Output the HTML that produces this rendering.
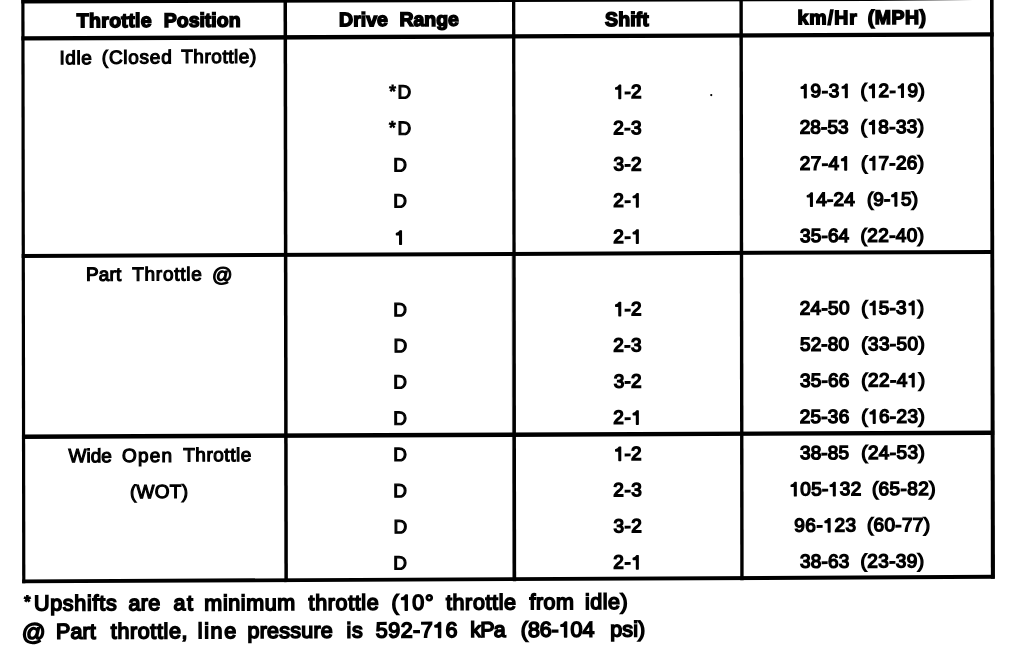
<!DOCTYPE html>
<html><head><meta charset="utf-8"><title>Shift Speed Chart</title>
<style>
html,body{margin:0;padding:0;background:#fff;}
body{width:1024px;height:660px;overflow:hidden;position:relative;font-family:"Liberation Sans",sans-serif;color:#000;}
#sheet{position:absolute;left:0;top:0;width:1024px;height:660px;transform-origin:0 0;transform:matrix(1,-0.00412,0.0015,1,0,0);filter:grayscale(1);}
#rules{position:absolute;left:0;top:0;overflow:visible;}
#sheet span{position:absolute;left:0;top:0;white-space:pre;line-height:0;}
.b{font-size:19.0px;-webkit-text-stroke:1.4px #000;}
.a{font-size:19.0px;-webkit-text-stroke:1.15px #000;}
.h{font-size:19.5px;font-weight:bold;-webkit-text-stroke:1.5px #000;}
.f{font-size:21.5px;-webkit-text-stroke:1.6px #000;}
.o{display:inline-block;position:relative;width:.556em;height:0;vertical-align:baseline;}
.o svg{position:absolute;left:0;bottom:0;width:.556em;height:.76em;overflow:visible;fill:#000;stroke:#000;stroke-linejoin:round;}
.b .o svg{stroke-width:73.7;}
.f .o svg{stroke-width:74.4;}
</style></head><body>
<div id="sheet">
<svg id="rules" width="1024" height="660" viewBox="0 0 1024 660" fill="#000">
<rect x="21.3" y="36.4" width="972.30" height="4.30"/>
<rect x="21.3" y="254.0" width="972.30" height="4.00"/>
<rect x="21.3" y="434.6" width="972.30" height="4.40"/>
<rect x="21.3" y="-1.0" width="3.20" height="584.30"/>
<rect x="283.5" y="-1.0" width="3.50" height="584.30"/>
<rect x="512.0" y="-1.0" width="3.30" height="584.30"/>
<rect x="739.4" y="-1.0" width="3.40" height="584.30"/>
<polygon points="21.3,579.6 993.6,578.85 993.6,582.95 21.3,583.3"/>
<polygon points="990,-1 993.6,-1 994.1,582.95 990,582.95"/>
<polygon points="21.3,-1 993.6,-1 993.6,3.9 870,4.55 21.3,3.6"/>
<rect x="511.3" y="257" width="1" height="324" opacity=".5"/>
<circle cx="711.1" cy="98.0" r="1.1"/>
</svg>
<span class="h" style="transform:translate(76.75px,20.64px);letter-spacing:0.31px;">Throttle</span>
<span class="h" style="transform:translate(163.73px,20.64px);letter-spacing:-0.02px;">Position</span>
<span class="h" style="transform:translate(339.08px,20.64px);letter-spacing:0.01px;">Drive</span>
<span class="h" style="transform:translate(399.45px,20.64px);letter-spacing:-0.04px;">Range</span>
<span class="h" style="transform:translate(605.07px,21.54px);letter-spacing:0.05px;">Shift</span>
<span class="h" style="transform:translate(797.39px,20.64px);letter-spacing:1.06px;">km/Hr</span>
<span class="h" style="transform:translate(867.73px,20.64px);letter-spacing:0.46px;">(MPH)</span>
<span class="a" style="transform:translate(59.44px,58.47px);letter-spacing:0.51px;">Idle</span>
<span class="a" style="transform:translate(101.77px,58.17px);letter-spacing:0.73px;">(Closed</span>
<span class="a" style="transform:translate(181.13px,57.87px);letter-spacing:0.53px;">Throttle)</span>
<span class="a" style="transform:translate(85.50px,275.21px);letter-spacing:0.15px;">Part</span>
<span class="a" style="transform:translate(131.81px,275.21px);letter-spacing:0.73px;">Throttle</span>
<span class="a" style="transform:translate(211.48px,275.66px);font-size:20.3px;">@</span>
<span class="a" style="transform:translate(67.86px,456.56px);letter-spacing:-0.03px;">Wide</span>
<span class="a" style="transform:translate(121.32px,456.56px);letter-spacing:1.15px;">Open</span>
<span class="a" style="transform:translate(182.51px,456.16px);letter-spacing:0.52px;">Throttle</span>
<span class="a" style="transform:translate(129.18px,492.75px);letter-spacing:0.30px;">(WOT)</span>
<span class="a" style="transform:translate(389.00px,92.55px);font-size:17.3px;">*</span>
<span class="a" style="transform:translate(397.41px,94.26px);">D</span>
<span class="a" style="transform:translate(388.82px,128.74px);font-size:17.3px;">*</span>
<span class="a" style="transform:translate(397.34px,130.45px);">D</span>
<span class="a" style="transform:translate(393.00px,167.04px);">D</span>
<span class="a" style="transform:translate(392.95px,203.23px);">D</span>
<span class="a" style="transform:translate(392.71px,311.80px);">D</span>
<span class="a" style="transform:translate(392.97px,347.99px);">D</span>
<span class="a" style="transform:translate(392.68px,384.18px);">D</span>
<span class="a" style="transform:translate(392.60px,420.37px);">D</span>
<span class="a" style="transform:translate(392.52px,456.56px);">D</span>
<span class="a" style="transform:translate(392.44px,492.75px);">D</span>
<span class="a" style="transform:translate(392.70px,528.94px);">D</span>
<span class="a" style="transform:translate(392.41px,565.13px);">D</span>
<span class="b" style="transform:translate(394.19px,239.42px);"><b class="o"><svg viewBox="0 -760 556 760"><path d="M359 0H272V-501H101V-563C190-570 250-610 290-703H359Z"/></svg></b></span>
<span class="b" style="transform:translate(613.64px,94.66px);letter-spacing:0.17px;"><b class="o" style="margin-right:0.17px"><svg viewBox="0 -760 556 760"><path d="M359 0H272V-501H101V-563C190-570 250-610 290-703H359Z"/></svg></b>-2</span>
<span class="b" style="transform:translate(613.14px,130.85px);letter-spacing:0.35px;">2-3</span>
<span class="b" style="transform:translate(613.30px,167.04px);letter-spacing:0.28px;">3-2</span>
<span class="b" style="transform:translate(613.04px,203.23px);letter-spacing:0.64px;">2-<b class="o" style="margin-right:0.64px"><svg viewBox="0 -760 556 760"><path d="M359 0H272V-501H101V-563C190-570 250-610 290-703H359Z"/></svg></b></span>
<span class="b" style="transform:translate(612.98px,239.42px);letter-spacing:0.64px;">2-<b class="o" style="margin-right:0.64px"><svg viewBox="0 -760 556 760"><path d="M359 0H272V-501H101V-563C190-570 250-610 290-703H359Z"/></svg></b></span>
<span class="b" style="transform:translate(613.31px,311.80px);letter-spacing:0.18px;"><b class="o" style="margin-right:0.18px"><svg viewBox="0 -760 556 760"><path d="M359 0H272V-501H101V-563C190-570 250-610 290-703H359Z"/></svg></b>-2</span>
<span class="b" style="transform:translate(612.82px,347.99px);letter-spacing:0.40px;">2-3</span>
<span class="b" style="transform:translate(613.11px,384.18px);letter-spacing:0.21px;">3-2</span>
<span class="b" style="transform:translate(612.71px,420.37px);letter-spacing:0.64px;">2-<b class="o" style="margin-right:0.64px"><svg viewBox="0 -760 556 760"><path d="M359 0H272V-501H101V-563C190-570 250-610 290-703H359Z"/></svg></b></span>
<span class="b" style="transform:translate(613.10px,456.56px);letter-spacing:0.17px;"><b class="o" style="margin-right:0.17px"><svg viewBox="0 -760 556 760"><path d="M359 0H272V-501H101V-563C190-570 250-610 290-703H359Z"/></svg></b>-2</span>
<span class="b" style="transform:translate(612.60px,492.75px);letter-spacing:0.55px;">2-3</span>
<span class="b" style="transform:translate(612.75px,528.94px);letter-spacing:0.44px;">3-2</span>
<span class="b" style="transform:translate(612.49px,565.13px);letter-spacing:0.64px;">2-<b class="o" style="margin-right:0.64px"><svg viewBox="0 -760 556 760"><path d="M359 0H272V-501H101V-563C190-570 250-610 290-703H359Z"/></svg></b></span>
<span class="b" style="transform:translate(799.17px,94.66px);letter-spacing:0.64px;"><b class="o" style="margin-right:0.64px"><svg viewBox="0 -760 556 760"><path d="M359 0H272V-501H101V-563C190-570 250-610 290-703H359Z"/></svg></b>9-3<b class="o" style="margin-right:0.64px"><svg viewBox="0 -760 556 760"><path d="M359 0H272V-501H101V-563C190-570 250-610 290-703H359Z"/></svg></b></span>
<span class="b" style="transform:translate(860.36px,94.66px);letter-spacing:0.52px;">(<b class="o" style="margin-right:0.52px"><svg viewBox="0 -760 556 760"><path d="M359 0H272V-501H101V-563C190-570 250-610 290-703H359Z"/></svg></b>2-<b class="o" style="margin-right:0.52px"><svg viewBox="0 -760 556 760"><path d="M359 0H272V-501H101V-563C190-570 250-610 290-703H359Z"/></svg></b>9)</span>
<span class="b" style="transform:translate(799.49px,130.85px);letter-spacing:0.08px;">28-53</span>
<span class="b" style="transform:translate(860.37px,130.85px);letter-spacing:0.39px;">(<b class="o" style="margin-right:0.39px"><svg viewBox="0 -760 556 760"><path d="M359 0H272V-501H101V-563C190-570 250-610 290-703H359Z"/></svg></b>8-33)</span>
<span class="b" style="transform:translate(799.44px,167.04px);letter-spacing:0.48px;">27-4<b class="o" style="margin-right:0.48px"><svg viewBox="0 -760 556 760"><path d="M359 0H272V-501H101V-563C190-570 250-610 290-703H359Z"/></svg></b></span>
<span class="b" style="transform:translate(860.70px,167.04px);letter-spacing:0.30px;">(<b class="o" style="margin-right:0.30px"><svg viewBox="0 -760 556 760"><path d="M359 0H272V-501H101V-563C190-570 250-610 290-703H359Z"/></svg></b>7-26)</span>
<span class="b" style="transform:translate(805.14px,203.23px);letter-spacing:0.20px;"><b class="o" style="margin-right:0.20px"><svg viewBox="0 -760 556 760"><path d="M359 0H272V-501H101V-563C190-570 250-610 290-703H359Z"/></svg></b>4-24</span>
<span class="b" style="transform:translate(866.58px,203.23px);letter-spacing:0.08px;">(9-<b class="o" style="margin-right:0.08px"><svg viewBox="0 -760 556 760"><path d="M359 0H272V-501H101V-563C190-570 250-610 290-703H359Z"/></svg></b>5)</span>
<span class="b" style="transform:translate(799.58px,239.42px);letter-spacing:0.16px;">35-64</span>
<span class="b" style="transform:translate(860.14px,239.42px);letter-spacing:0.39px;">(22-40)</span>
<span class="b" style="transform:translate(799.22px,311.80px);letter-spacing:0.29px;">24-50</span>
<span class="b" style="transform:translate(860.76px,311.80px);letter-spacing:0.27px;">(<b class="o" style="margin-right:0.27px"><svg viewBox="0 -760 556 760"><path d="M359 0H272V-501H101V-563C190-570 250-610 290-703H359Z"/></svg></b>5-3<b class="o" style="margin-right:0.27px"><svg viewBox="0 -760 556 760"><path d="M359 0H272V-501H101V-563C190-570 250-610 290-703H359Z"/></svg></b>)</span>
<span class="b" style="transform:translate(799.41px,347.99px);letter-spacing:0.15px;">52-80</span>
<span class="b" style="transform:translate(860.74px,347.99px);letter-spacing:0.38px;">(33-50)</span>
<span class="b" style="transform:translate(799.30px,384.18px);letter-spacing:0.18px;">35-66</span>
<span class="b" style="transform:translate(860.65px,384.18px);letter-spacing:0.42px;">(22-4<b class="o" style="margin-right:0.42px"><svg viewBox="0 -760 556 760"><path d="M359 0H272V-501H101V-563C190-570 250-610 290-703H359Z"/></svg></b>)</span>
<span class="b" style="transform:translate(799.06px,420.37px);letter-spacing:0.23px;">25-36</span>
<span class="b" style="transform:translate(860.60px,420.37px);letter-spacing:0.39px;">(<b class="o" style="margin-right:0.39px"><svg viewBox="0 -760 556 760"><path d="M359 0H272V-501H101V-563C190-570 250-610 290-703H359Z"/></svg></b>6-23)</span>
<span class="b" style="transform:translate(799.22px,456.56px);letter-spacing:0.16px;">38-85</span>
<span class="b" style="transform:translate(860.45px,456.56px);letter-spacing:0.41px;">(24-53)</span>
<span class="b" style="transform:translate(788.57px,492.75px);letter-spacing:0.36px;"><b class="o" style="margin-right:0.36px"><svg viewBox="0 -760 556 760"><path d="M359 0H272V-501H101V-563C190-570 250-610 290-703H359Z"/></svg></b>05-<b class="o" style="margin-right:0.36px"><svg viewBox="0 -760 556 760"><path d="M359 0H272V-501H101V-563C190-570 250-610 290-703H359Z"/></svg></b>32</span>
<span class="b" style="transform:translate(871.14px,492.75px);letter-spacing:0.39px;">(65-82)</span>
<span class="b" style="transform:translate(793.36px,528.94px);letter-spacing:0.56px;">96-<b class="o" style="margin-right:0.56px"><svg viewBox="0 -760 556 760"><path d="M359 0H272V-501H101V-563C190-570 250-610 290-703H359Z"/></svg></b>23</span>
<span class="b" style="transform:translate(866.09px,528.94px);letter-spacing:0.31px;">(60-77)</span>
<span class="b" style="transform:translate(799.03px,565.13px);letter-spacing:0.19px;">38-63</span>
<span class="b" style="transform:translate(859.72px,565.13px);letter-spacing:0.37px;">(23-39)</span>
<span class="f" style="transform:translate(23.28px,601.96px);font-size:16px;">*</span>
<span class="f" style="transform:translate(33.02px,603.75px);letter-spacing:0.72px;">Upshifts</span>
<span class="f" style="transform:translate(127.70px,603.95px);letter-spacing:0.20px;">are</span>
<span class="f" style="transform:translate(172.55px,604.05px);letter-spacing:1.57px;">at</span>
<span class="f" style="transform:translate(203.44px,604.25px);letter-spacing:0.62px;">minimum</span>
<span class="f" style="transform:translate(307.66px,604.35px);letter-spacing:0.63px;">throttle</span>
<span class="f" style="transform:translate(390.56px,604.55px);letter-spacing:0.81px;">(<b class="o" style="margin-right:0.81px"><svg viewBox="0 -760 556 760"><path d="M359 0H272V-501H101V-563C190-570 250-610 290-703H359Z"/></svg></b>0°</span>
<span class="f" style="transform:translate(445.01px,604.55px);letter-spacing:0.62px;">throttle</span>
<span class="f" style="transform:translate(528.58px,604.55px);letter-spacing:0.48px;">from</span>
<span class="f" style="transform:translate(584.17px,604.55px);letter-spacing:0.47px;">idle)</span>
<span class="f" style="transform:translate(20.78px,632.36px);font-size:23.5px;">@</span>
<span class="f" style="transform:translate(55.03px,632.05px);letter-spacing:0.12px;">Part</span>
<span class="f" style="transform:translate(109.89px,632.05px);letter-spacing:0.61px;">throttle,</span>
<span class="f" style="transform:translate(196.87px,632.05px);letter-spacing:1.60px;">line</span>
<span class="f" style="transform:translate(246.50px,632.05px);letter-spacing:0.24px;">pressure</span>
<span class="f" style="transform:translate(345.43px,632.05px);letter-spacing:0.79px;">is</span>
<span class="f" style="transform:translate(374.86px,632.05px);letter-spacing:0.47px;">592-7<b class="o" style="margin-right:0.47px"><svg viewBox="0 -760 556 760"><path d="M359 0H272V-501H101V-563C190-570 250-610 290-703H359Z"/></svg></b>6</span>
<span class="f" style="transform:translate(469.35px,632.05px);letter-spacing:-0.78px;">kPa</span>
<span class="f" style="transform:translate(519.85px,632.05px);letter-spacing:-0.09px;">(86-<b class="o" style="margin-right:-0.09px"><svg viewBox="0 -760 556 760"><path d="M359 0H272V-501H101V-563C190-570 250-610 290-703H359Z"/></svg></b>04</span>
<span class="f" style="transform:translate(609.20px,632.05px);letter-spacing:0.13px;">psi)</span>
</div>
</body></html>
